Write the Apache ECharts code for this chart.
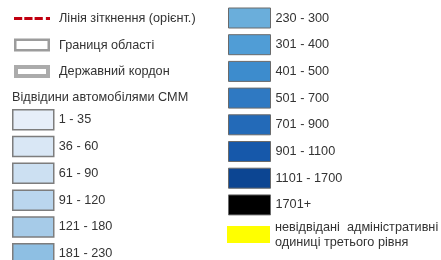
<!DOCTYPE html>
<html>
<head>
<meta charset="utf-8">
<script src="https://cdn.jsdelivr.net/npm/echarts@6/dist/echarts.min.js"></script>
<style>
  html, body { margin: 0; padding: 0; background: #fff; }
  #chart { width: 441px; height: 260px; }
</style>
</head>
<body>
<div id="chart"></div>
<script>
// legend entries
const lineLabel = 'Лінія зіткнення (орієнт.)'
const borderLabels = ['Границя області', 'Державний кордон']
const heading = 'Відвідини автомобілями СММ'
const lowRanges = ['1 - 35', '36 - 60', '61 - 90', '91 - 120', '121 - 180', '181 - 230']
const lowColors = ['#e6eef9', '#d9e7f5', '#cce0f2', '#bad6ee', '#a6cbe8', '#8ebfe3']
const highRanges = ['230 - 300', '301 - 400', '401 - 500', '501 - 700', '701 - 900', '901 - 1100', '1101 - 1700', '1701+']
const highColors = ['#6aaedb', '#509dd6', '#3d8ccd', '#2f79c2', '#236ab8', '#1658aa', '#0c4592', '#000000']
const unvisitedLabel = 'невідвідані  адміністративні\nодиниці третього рівня'

const font = 'Liberation Sans, Arial, sans-serif'
const textStyle = { fontFamily: font, fontSize: 12.7, color: '#333' }

const chart = echarts.init(document.getElementById('chart'))

const lineStyle = { color: '#c00010' }
const borderStyles = [
  { color: '#9c9c9c' },
  { color: '#ababab' },
]
// frame icons: outer box with a hole cut out
const borderIcons = [
  'path://M0,0h36v13h-36z M2.5,2.5v8h31v-8z',
  'path://M0,0h36v13h-36z M4,4v5h28v-5z',
]
const lowStyle = i => ({ color: lowColors[i], borderColor: '#7d7d7d', borderWidth: 1.5 })
const highStyle = i => ({ color: highColors[i], borderColor: '#6a6a6a', borderWidth: 1 })
const unvisitedStyle = { color: '#ffff00', borderWidth: 0 }

function dummy(name, itemStyle) {
  return { name, type: 'bar', data: [], itemStyle }
}

const series = [
  dummy(lineLabel, lineStyle),
  ...borderLabels.map((n, i) => dummy(n, borderStyles[i])),
  ...lowRanges.map((r, i) => dummy(r, lowStyle(i))),
  ...highRanges.map((r, i) => dummy(r, highStyle(i))),
  dummy(unvisitedLabel, unvisitedStyle),
]

const legendBase = {
  orient: 'vertical',
  padding: 0,
  height: 400,
  selectedMode: false,
  icon: 'rect',
  textStyle,
}

chart.setOption({
  animation: false,
  title: {
    text: heading,
    left: 12,
    top: 91,
    padding: 0,
    textStyle: { ...textStyle, fontWeight: 'normal' },
  },
  grid: { show: false },
  xAxis: { show: false },
  yAxis: { show: false },
  legend: [
    {
      ...legendBase,
      left: 14,
      top: 12,
      itemWidth: 36,
      itemHeight: 13,
      itemGap: 13.5,
      textStyle: { ...textStyle, padding: [0, 0, 0, 4] },
      data: [
        {
          name: lineLabel,
          icon: 'path://M0,0h8v3h-8z M10,0h8v3h-8z M20,0h8v3h-8z M31,0h4v3h-4z',
          itemStyle: lineStyle,
        },
        ...borderLabels.map((n, i) => ({ name: n, icon: borderIcons[i], itemStyle: borderStyles[i] })),
      ],
    },
    {
      ...legendBase,
      left: 12,
      top: 109,
      itemWidth: 41,
      itemHeight: 20,
      itemGap: 5.3,
      data: lowRanges.map((r, i) => ({ name: r, itemStyle: lowStyle(i) })),
    },
    {
      ...legendBase,
      left: 228,
      top: 7.5,
      itemWidth: 42,
      itemHeight: 20,
      itemGap: 5.7,
      data: highRanges.map((r, i) => ({ name: r, itemStyle: highStyle(i) })),
    },
    {
      ...legendBase,
      left: 227,
      top: 219.5,
      itemWidth: 43,
      itemHeight: 17,
      textStyle: { ...textStyle, lineHeight: 15 },
      data: [{ name: unvisitedLabel, itemStyle: unvisitedStyle }],
    },
  ],
  series,
})
</script>
</body>
</html>
